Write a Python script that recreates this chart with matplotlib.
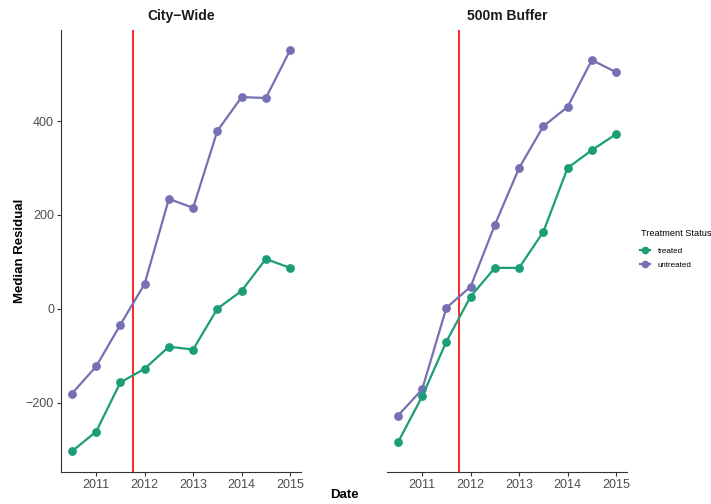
import matplotlib
matplotlib.use("Agg")
import matplotlib.pyplot as plt
from matplotlib.lines import Line2D

plt.rcParams['font.family'] = ['Liberation Sans', 'DejaVu Sans']

# half-year periods
dates = [2010.5, 2011.0, 2011.5, 2012.0, 2012.5, 2013.0, 2013.5, 2014.0, 2014.5, 2015.0]

city_treated = [-304, -262, -157, -128, -81, -87, 0, 38, 106, 87]
city_untreated = [-181, -123, -34, 53, 234, 215, 379, 451, 449, 551]

buffer_treated = [-285, -187, -70, 26, 87, 87, 164, 300, 338, 372]
buffer_untreated = [-228, -172, 2, 47, 179, 300, 389, 430, 530, 504]

panels = ["City\u2212Wide", "500m Buffer"]
treatment_date = 2011.75

green = "#1B9E77"
purple = "#7570B3"

fig = plt.figure(figsize=(7.11, 5.04), dpi=100)
W, H = 711, 504
ax1 = fig.add_axes([61 / W, 1 - 472 / H, 240 / W, 442 / H])
ax2 = fig.add_axes([387 / W, 1 - 472 / H, 240 / W, 442 / H], sharey=ax1)

series = [(city_treated, city_untreated), (buffer_treated, buffer_untreated)]
for ax, title, (tr, un) in zip([ax1, ax2], panels, series):
    ax.plot(dates, un, color=purple, lw=1.6, marker="o", ms=5.3, zorder=3)
    ax.plot(dates, tr, color=green, lw=1.6, marker="o", ms=5.3, zorder=3)
    ax.axvline(treatment_date, color="red", lw=1.2, zorder=2)
    ax.set_xlim(2010.275, 2015.225)
    ax.set_ylim(-348, 594)
    ax.set_xticks([2011, 2012, 2013, 2014, 2015])
    ax.set_title(title, fontsize=10, fontweight="bold", color="#1a1a1a", pad=7)
    for s in ["top", "right"]:
        ax.spines[s].set_visible(False)
    ax.spines["bottom"].set_color("#333333")
    ax.spines["left"].set_color("#333333")
    ax.tick_params(colors="#333333", labelcolor="#4D4D4D", labelsize=9, length=3, width=0.8, pad=2)

ax1.set_yticks([-200, 0, 200, 400])
ax2.spines["left"].set_visible(False)
ax2.tick_params(axis="y", left=False, labelleft=False)

fig.text(20 / W, 1 - 251 / H, "Median Residual", ha="center", va="center",
         rotation=90, fontsize=9.5, fontweight="bold")
fig.text(344 / W, 1 - 495 / H, "Date", ha="center", va="center", fontsize=9.5, fontweight="bold")

# legend: title drawn separately so it sits like ggplot's
fig.text(641 / W, 1 - 234 / H, "Treatment Status", ha="left", va="center", fontsize=6.6)
handles = [Line2D([], [], color=green, lw=1.6, marker="o", ms=4.5),
           Line2D([], [], color=purple, lw=1.6, marker="o", ms=4.5)]
fig.legend(handles, ["treated", "untreated"],
           loc="upper left", bbox_to_anchor=(640 / W, 1 - 247 / H),
           frameon=False, fontsize=5.8, borderpad=0, borderaxespad=0,
           handlelength=1.3, labelspacing=0.8, handletextpad=0.9)

fig.savefig("out.png", dpi=100)
